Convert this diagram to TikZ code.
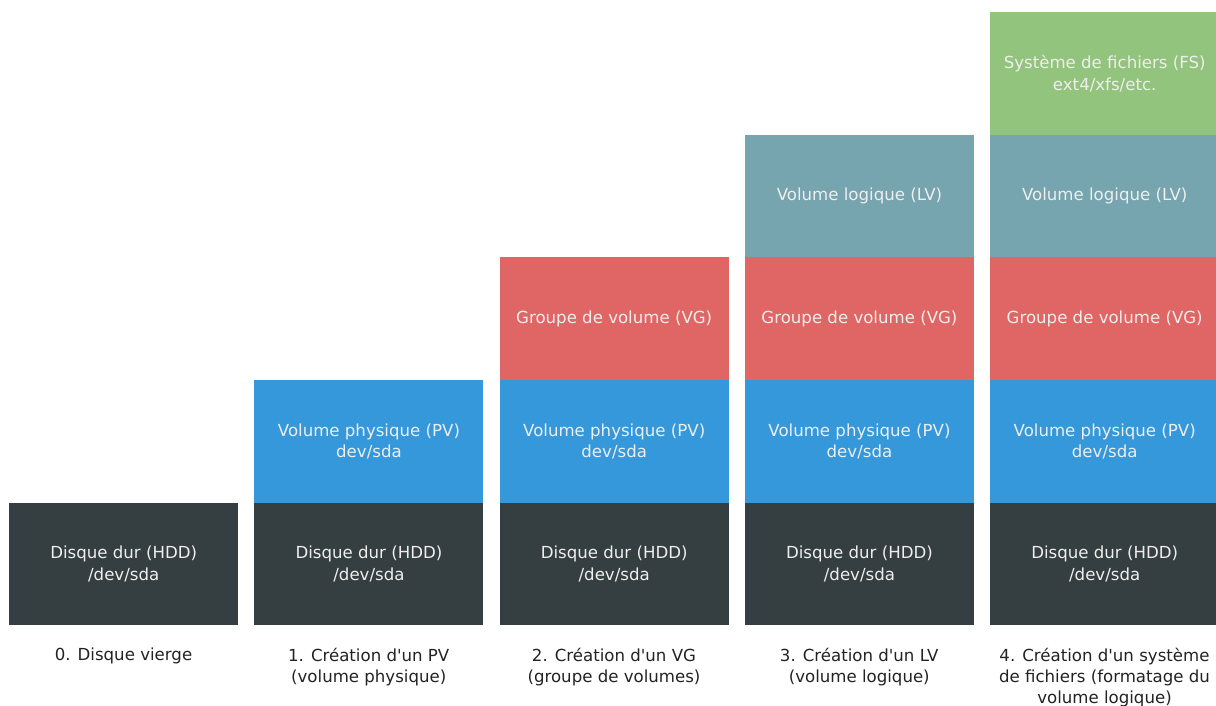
\documentclass[tikz,border=0pt]{standalone}
\usepackage{fontspec}
\setmainfont{DejaVu Sans}[Ligatures=TeXOff]
\definecolor{hdd}{HTML}{353F42}
\definecolor{pv}{HTML}{3498DB}
\definecolor{vg}{HTML}{E06666}
\definecolor{lv}{HTML}{76A5AF}
\definecolor{fs}{HTML}{93C47D}
\definecolor{boxtext}{HTML}{EEEEEE}
\definecolor{captext}{HTML}{222222}
\begin{document}
\begin{tikzpicture}[x=1pt,y=-1pt,
  layer/.style={anchor=north west,minimum width=229pt,minimum height=122.6pt,inner sep=0pt,draw=none,
    text=boxtext,align=center,font=\fontsize{16.6}{21.5}\selectfont},
  hddbox/.style={layer,fill=hdd},
  pvbox/.style={layer,fill=pv},
  vgbox/.style={layer,fill=vg},
  lvbox/.style={layer,fill=lv},
  fsbox/.style={layer,fill=fs},
  caption/.style={anchor=north,inner sep=0pt,align=center,text=captext,font=\fontsize{16.6}{20.8}\selectfont}]
\useasboundingbox (0,0) rectangle (1216,706);
% column 0
\node[hddbox] (h0) at (9,502.4) {Disque dur (HDD)\\/dev/sda};
% column 1
\node[hddbox] (h1) at (254.25,502.4) {Disque dur (HDD)\\/dev/sda};
\node[pvbox] (p1) at (254.25,379.8) {Volume physique (PV)\\dev/sda};
% column 2
\node[hddbox] (h2) at (499.5,502.4) {Disque dur (HDD)\\/dev/sda};
\node[pvbox] (p2) at (499.5,379.8) {Volume physique (PV)\\dev/sda};
\node[vgbox] (g2) at (499.5,257.2) {Groupe de volume (VG)};
% column 3
\node[hddbox] (h3) at (744.75,502.4) {Disque dur (HDD)\\/dev/sda};
\node[pvbox] (p3) at (744.75,379.8) {Volume physique (PV)\\dev/sda};
\node[vgbox] (g3) at (744.75,257.2) {Groupe de volume (VG)};
\node[lvbox] (l3) at (744.75,134.6) {Volume logique (LV)};
% column 4
\node[hddbox] (h4) at (990,502.4) {Disque dur (HDD)\\/dev/sda};
\node[pvbox] (p4) at (990,379.8) {Volume physique (PV)\\dev/sda};
\node[vgbox] (g4) at (990,257.2) {Groupe de volume (VG)};
\node[lvbox] (l4) at (990,134.6) {Volume logique (LV)};
\node[fsbox] (f4) at (990,12) {Système de fichiers (FS)\\ext4/xfs/etc.};
% captions
\node[caption] (c0) at (123.5,648) {0. Disque vierge};
\node[caption] (c1) at (368.75,648) {1. Création d'un PV\\(volume physique)};
\node[caption] (c2) at (614,648) {2. Création d'un VG\\(groupe de volumes)};
\node[caption] (c3) at (859.25,648) {3. Création d'un LV\\(volume logique)};
\node[caption] (c4) at (1104.5,648) {4. Création d'un système\\de fichiers (formatage du\\volume logique)};
\end{tikzpicture}
\end{document}
